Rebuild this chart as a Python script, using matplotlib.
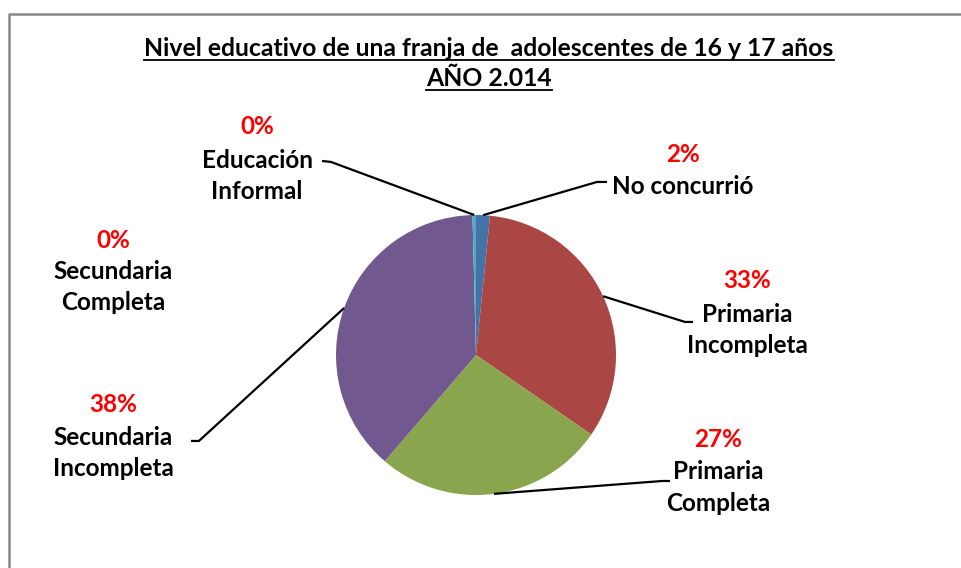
import matplotlib
matplotlib.use("Agg")
import matplotlib.pyplot as plt
from matplotlib.lines import Line2D
import numpy as np

# data
categories = ["No concurrió", "Primaria Incompleta", "Primaria Completa",
              "Secundaria Incompleta", "Secundaria Completa", "Educación Informal"]
values = [1.6, 33.0, 26.7, 38.3, 0.0, 0.4]
label_lines = [["No concurrió"], ["Primaria", "Incompleta"], ["Primaria", "Completa"],
               ["Secundaria", "Incompleta"], ["Secundaria", "Completa"], ["Educación", "Informal"]]
colors = ["#4573A7", "#AA4644", "#89A54E", "#71588F", "#4198AF", "#4BACC6"]
title_lines = ["Nivel educativo de una franja de  adolescentes de 16 y 17 años", "AÑO 2.014"]

# layout (pie radius = 1 data unit, ~140 px)
pct_pos = [(1.479, 1.429), (1.936, 0.529), (1.729, -0.607),
           (-2.593, -0.357), (-2.593, 0.821), (-1.564, 1.629)]
name_pos = [(1.479, 1.20), (1.936, 0.179), (1.729, -0.946),
            (-2.593, -0.70), (-2.593, 0.486), (-1.564, 1.279)]
elbows = [((0.864, 1.236), (0.936, 1.236)),
          ((1.493, 0.236), (1.55, 0.236)),
          ((1.329, -0.90), (1.386, -0.90)),
          ((-1.979, -0.614), (-2.036, -0.614)),
          None,
          ((-1.036, 1.379), (-1.10, 1.386))]

FONT = "Lato"
LABEL_SIZE = 17.5
W, H = 961, 568
cx, cy, R = 476, 355, 140

fig = plt.figure(figsize=(W / 100, H / 100), dpi=100)
ax = fig.add_axes([0, 0, 1, 1])
wedges, _ = ax.pie(values, colors=colors, startangle=90, counterclock=False,
                   radius=1, center=(0, 0), wedgeprops=dict(linewidth=0))
ax.set_xlim(-cx / R, (W - cx) / R)
ax.set_ylim((cy - H) / R, cy / R)
ax.set_aspect("equal")
ax.axis("off")

total = sum(values)
for i, w in enumerate(wedges):
    pct = values[i] / total * 100
    ax.text(*pct_pos[i], "%.0f%%" % pct, color="#FF0000", fontsize=LABEL_SIZE,
            fontweight="bold", family=FONT, ha="center", va="center")
    ax.text(*name_pos[i], "\n".join(label_lines[i]), color="black", fontsize=LABEL_SIZE,
            fontweight="bold", family=FONT, ha="center", va="center", linespacing=1.45)
    if elbows[i] is None:
        continue
    ang = np.deg2rad((w.theta1 + w.theta2) / 2)
    p0 = (np.cos(ang), np.sin(ang))
    (ex, ey), (tx, ty) = elbows[i]
    ax.plot([p0[0], ex, tx], [p0[1], ey, ty], color="black", lw=1.6,
            solid_capstyle="butt", clip_on=False)

# title with underline
baselines = [1 - 56.5 / H, 1 - 86.5 / H]
fig.canvas.draw()
renderer = fig.canvas.get_renderer()
for line, yb in zip(title_lines, baselines):
    t = fig.text(489 / W, yb, line, fontsize=17.8, fontweight="bold", family=FONT,
                 ha="center", va="baseline")
    bb = t.get_window_extent(renderer)
    yu = yb - 3.5 / H
    fig.add_artist(Line2D([bb.x0 / W, bb.x1 / W], [yu, yu], color="black", lw=1.3,
                          transform=fig.transFigure))

# chart border
fig.add_artist(Line2D([8.5 / W, 8.5 / W, 1], [0, 1 - 14 / H, 1 - 14 / H],
                      color="#888888", lw=1.8, transform=fig.transFigure))

fig.savefig("out.png", dpi=100)
